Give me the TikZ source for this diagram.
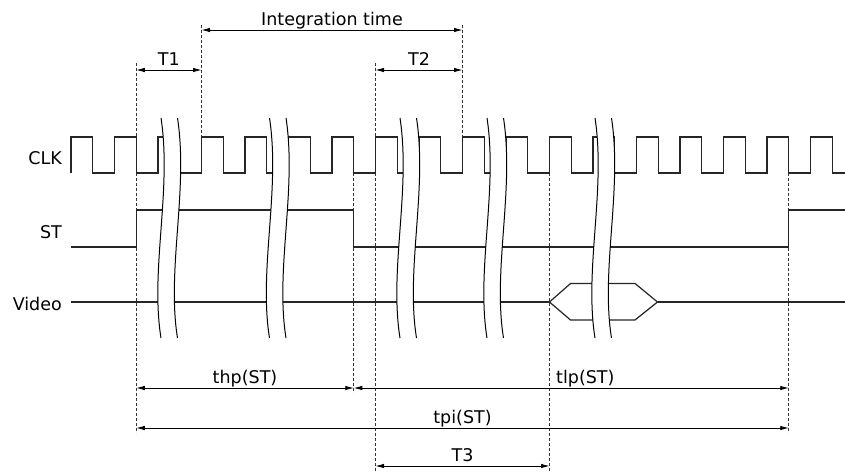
\documentclass[tikz,border=0pt]{standalone}
\usepackage{fontspec}
\setmainfont{DejaVu Sans}
\usetikzlibrary{arrows.meta}
\begin{document}
\begin{tikzpicture}[x=1pt,y=-1pt,
  sig/.style={line width=1.2pt, black!85, line join=miter},
  guide/.style={line width=0.6pt, dash pattern=on 3pt off 2pt, black!80},
  dim/.style={line width=0.8pt, {Latex[length=8.5pt,width=4.5pt]}-{Latex[length=8.5pt,width=4.5pt]}},
  lbl/.style={font=\fontsize{17.5}{20}\selectfont, inner sep=0pt},
  brk/.pic={
    \fill[white] (0,118) .. controls (11,190) and (-11,270) .. (0,338)
      -- (16.5,338) .. controls (5.5,270) and (27.5,190) .. (16.5,118) -- cycle;
    \draw[line width=1pt] (0,118) .. controls (11,190) and (-11,270) .. (0,338);
    \draw[line width=1pt] (16.5,118) .. controls (27.5,190) and (5.5,270) .. (16.5,338);
  }
]
\fill[white] (0,0) rectangle (845,471);
\useasboundingbox (0,0) rectangle (845,471);

% signal labels
\node[lbl, anchor=base east] (clk) at (62,164) {CLK};
\node[lbl, anchor=base east] (st) at (62,238) {ST};
\node[lbl, anchor=base east] (vid) at (62,310) {Video};

% guide lines
\coordinate (gA1) at (136.25,63);  \coordinate (gA2) at (136.25,433);
\coordinate (gB1) at (201.5,25);   \coordinate (gB2) at (201.5,137);
\coordinate (gE1) at (462.5,25);   \coordinate (gE2) at (462.5,137);
\coordinate (gD1) at (375.5,63);   \coordinate (gD2) at (375.5,471);
\coordinate (gC1) at (353.75,173); \coordinate (gC2) at (353.75,393);
\coordinate (gF1) at (549.5,173);  \coordinate (gF2) at (549.5,471);
\coordinate (gG1) at (788.75,173); \coordinate (gG2) at (788.75,433);
\foreach \g in {A,B,C,D,E,F,G} \draw[guide] (g\g1) -- (g\g2);

% CLK
\draw[sig] (71,173) \foreach \k in {0,2,...,34} {
  -- ({71+\k*21.75},173) -- ({71+\k*21.75},137)
  -- ({71+(\k+1)*21.75},137) -- ({71+(\k+1)*21.75},173) } -- (845,173);

% ST
\draw[sig] (71,247) -- (136.25,247) -- (136.25,210) -- (353.75,210) -- (353.75,247)
  -- (788.75,247) -- (788.75,210) -- (845,210);

% Video
\draw[sig] (71,302) -- (549.5,302);
\draw[sig] (549.5,302) -- (570.5,283.5) -- (635,283.5) -- (657.5,302) -- (635,320) -- (570.5,320) -- cycle;
\draw[sig] (657.5,302) -- (845,302);

% breaks
\foreach \bx in {161,269.5,400,487,595} \pic at (\bx,0) {brk};

% dimension arrows
\coordinate (t1a) at (136.25,70); \coordinate (t1b) at (201.5,70);
\draw[dim] (t1a) -- (t1b) node[lbl, midway, anchor=base, yshift=5pt] (t1) {T1};
\coordinate (ita) at (201.5,30); \coordinate (itb) at (462.5,30);
\draw[dim] (ita) -- (itb) node[lbl, midway, anchor=base, yshift=5pt] (it) {Integration time};
\coordinate (t2a) at (375.5,70); \coordinate (t2b) at (462.5,70);
\draw[dim] (t2a) -- (t2b) node[lbl, midway, anchor=base, yshift=5pt] (t2) {T2};
\coordinate (thpa) at (136.25,388); \coordinate (thpb) at (353.75,388);
\draw[dim] (thpa) -- (thpb) node[lbl, midway, anchor=base, yshift=5pt] (thp) {thp(ST)};
\coordinate (tlpa) at (353.75,388); \coordinate (tlpb) at (788.75,388);
\draw[dim] (tlpa) -- (tlpb);
\node[lbl, anchor=base west] (tlp) at (556,383) {tlp(ST)};
\coordinate (tpia) at (136.25,428); \coordinate (tpib) at (788.75,428);
\draw[dim] (tpia) -- (tpib) node[lbl, midway, anchor=base, yshift=5pt] (tpi) {tpi(ST)};
\coordinate (t3a) at (375.5,466); \coordinate (t3b) at (549.5,466);
\draw[dim] (t3a) -- (t3b) node[lbl, midway, anchor=base, yshift=5pt] (t3) {T3};
\end{tikzpicture}
\end{document}
